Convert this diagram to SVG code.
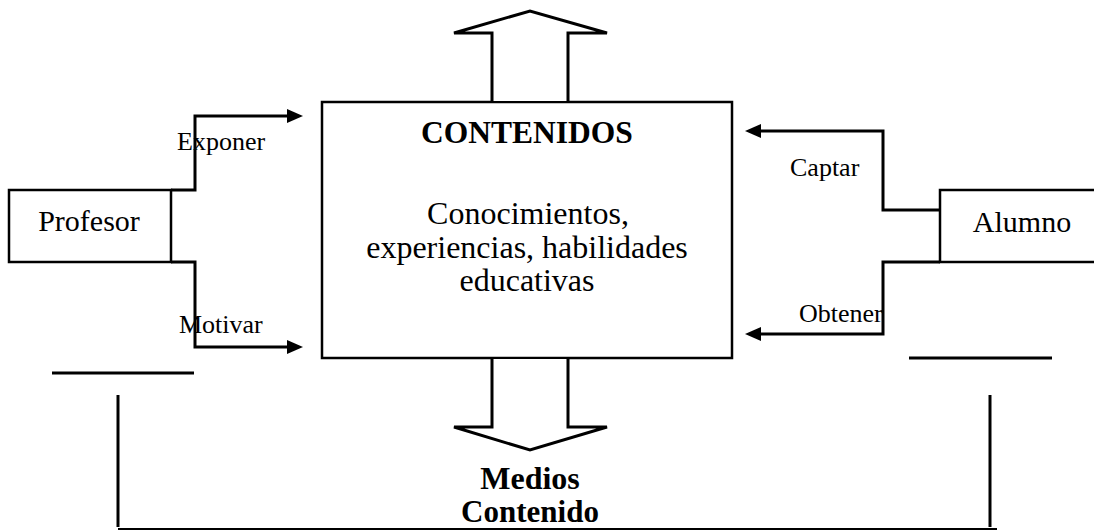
<svg xmlns="http://www.w3.org/2000/svg" width="1094" height="531" viewBox="0 0 1094 531">
<style>
.t{font-family:"Liberation Serif","Times New Roman",serif;fill:#000}
.b{font-weight:bold}
.box{fill:#fff;stroke:#000;stroke-width:2.5}
.con{fill:none;stroke:#000;stroke-width:3}
.big{fill:#fff;stroke:#000;stroke-width:3;stroke-linejoin:miter}
.ln{stroke:#000;stroke-width:3;fill:none}
</style>
<defs>
<marker id="ah" viewBox="0 0 16 14" refX="2" refY="7" markerWidth="16" markerHeight="14" markerUnits="userSpaceOnUse" orient="auto">
<path d="M0,0 L16,7 L0,14 z" fill="#000"/>
</marker>
</defs>
<rect width="1094" height="531" fill="#fff"/>
<g id="connectors">
<path class="con" d="M171,190 H195 V116 H289" marker-end="url(#ah)"/>
<path class="con" d="M171,262 H195 V347 H289" marker-end="url(#ah)"/>
<path class="con" d="M940,210 H883 V131 H759" marker-end="url(#ah)"/>
<path class="con" d="M940,262 H883 V334 H759" marker-end="url(#ah)"/>
<text class="t" x="177" y="150" font-size="26">Exponer</text>
<text class="t" x="179" y="333" font-size="26">Motivar</text>
<text class="t" x="790" y="176" font-size="26">Captar</text>
<text class="t" x="799" y="322" font-size="26">Obtener</text>
</g>
<g id="profesor">
<rect class="box" x="9" y="190" width="162" height="72"/>
<text class="t" x="89" y="231" font-size="30" text-anchor="middle">Profesor</text>
</g>
<g id="alumno">
<rect class="box" x="940" y="190" width="170" height="72"/>
<text class="t" x="1022" y="232" font-size="30" text-anchor="middle">Alumno</text>
</g>
<g id="contenidos">
<rect class="box" x="322" y="102" width="410" height="256"/>
<text class="t b" x="527" y="143" font-size="31.5" text-anchor="middle">CONTENIDOS</text>
<text class="t" x="528" y="224" font-size="32" text-anchor="middle">Conocimientos,</text>
<text class="t" x="527" y="258" font-size="32" text-anchor="middle">experiencias, habilidades</text>
<text class="t" x="527" y="291" font-size="32" text-anchor="middle">educativas</text>
</g>
<g id="arrow-up">
<path class="big" d="M492,101 V33 H454 L530,11 L607,33 H568 V101"/>
</g>
<g id="arrow-down">
<path class="big" d="M492,359 V427 H454 L530,450 L607,427 H568 V359"/>
</g>
<g id="medios">
<text class="t b" x="530" y="489" font-size="32" text-anchor="middle">Medios</text>
<text class="t b" x="530" y="522" font-size="31" text-anchor="middle">Contenido</text>
</g>
<g id="lines">
<line class="ln" x1="52" y1="373" x2="194" y2="373"/>
<line class="ln" x1="118" y1="395" x2="118" y2="527"/>
<line class="ln" x1="909" y1="358" x2="1052" y2="358"/>
<line class="ln" x1="990" y1="395" x2="990" y2="527"/>
<line stroke="#000" stroke-width="2" x1="118" y1="529" x2="997" y2="529"/>
</g>
</svg>
